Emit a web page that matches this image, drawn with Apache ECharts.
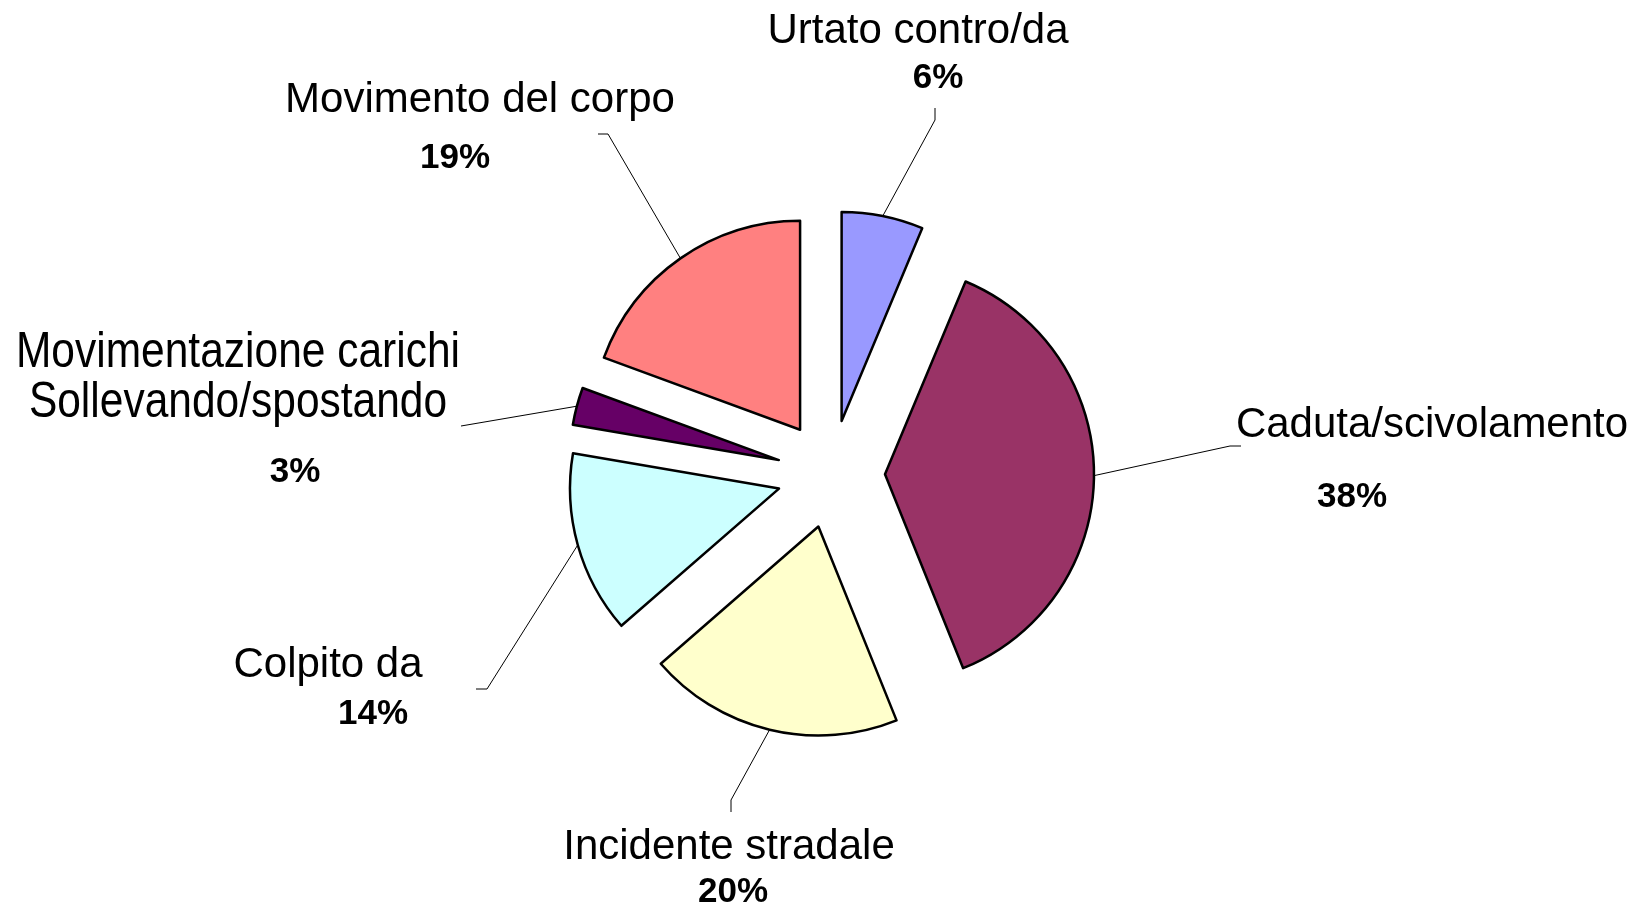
<!DOCTYPE html>
<html><head><meta charset="utf-8">
<script src="https://cdn.jsdelivr.net/npm/echarts@6/dist/echarts.min.js"></script>
<style>html,body{margin:0;padding:0;background:#fff}#c{width:1642px;height:907px}</style>
</head><body><div id="c"></div>
<script>
// ---- data (shares in %; labels show rounded values) ----
const categories = ['Urtato contro/da', 'Caduta/scivolamento', 'Incidente stradale', 'Colpito da', 'Movimentazione carichi\nSollevando/spostando', 'Movimento del corpo'];
const values = [6.3, 37.6, 19.7, 14.1, 2.9, 19.4];
const colors = ['#9999FF', '#993366', '#FFFFCC', '#CCFFFF', '#660066', '#FF8080'];

// ---- layout (label placement, not data) ----
const CX = 831, CY = 474, R = 209, OFF = 54;
const namePos = [[918, 31], [1432, 425], [729, 847], [328, 665], [238, 353], [480, 100]];
const nameLineGap = 50;
const nameScaleX = [1, 1, 1, 1, 0.85, 1];
const nameSize = [42, 42, 42, 42, 50, 42];
const pctPos = [[938, 78], [1352, 497], [733, 892], [373, 714], [295, 472], [455, 158]];
const elbow = [[[935, 120], [935, 108]], [[1230, 446], [1241, 446]], [[731, 800], [731, 812]], [[487, 689], [476, 689]], [[461, 426]], [[608, 134], [598, 134]]];
const FONT = "'Liberation Sans', Arial, Helvetica, sans-serif";

const total = values.reduce((a, b) => a + b, 0);
function midDir(i) {
  let cum = 0;
  for (let k = 0; k < i; k++) cum += values[k];
  const th = (cum + values[i] / 2) / total * 2 * Math.PI;
  return [Math.sin(th), -Math.cos(th)];
}

const sliceData = categories.map((n, i) => ({ name: n, value: values[i], selected: true, itemStyle: { color: colors[i] } }));

const graphics = [];
categories.forEach((n, i) => {
  const d = midDir(i);
  const start = [CX + d[0] * (R + OFF), CY + d[1] * (R + OFF)];
  graphics.push({
    type: 'polyline', silent: true,
    shape: { points: [start].concat(elbow[i]) },
    style: { stroke: '#000', lineWidth: 1, fill: null }
  });
  n.split('\n').forEach((line, j) => {
    graphics.push({
      type: 'text', silent: true,
      x: namePos[i][0], y: namePos[i][1] + j * nameLineGap,
      scaleX: nameScaleX[i],
      style: { text: line, fill: '#000', fontFamily: FONT, fontSize: nameSize[i], align: 'center', verticalAlign: 'middle' }
    });
  });
  graphics.push({
    type: 'text', silent: true,
    x: pctPos[i][0], y: pctPos[i][1],
    style: { text: Math.round(values[i] / total * 100) + '%', fill: '#000', fontFamily: FONT, fontSize: 35, fontWeight: 'bold', align: 'center', verticalAlign: 'middle' }
  });
});

const chart = echarts.init(document.getElementById('c'), null, { renderer: 'canvas' });
chart.setOption({
  backgroundColor: '#ffffff',
  animation: false,
  series: [
    {
      type: 'pie',
      center: [CX, CY],
      radius: R,
      startAngle: 90,
      clockwise: true,
      selectedMode: 'multiple',
      selectedOffset: OFF,
      avoidLabelOverlap: false,
      emphasis: { disabled: true },
      itemStyle: { borderColor: '#000', borderWidth: 2.5 },
      label: { show: false },
      labelLine: { show: false },
      data: sliceData
    }
  ],
  graphic: graphics
});
</script>
</body></html>
